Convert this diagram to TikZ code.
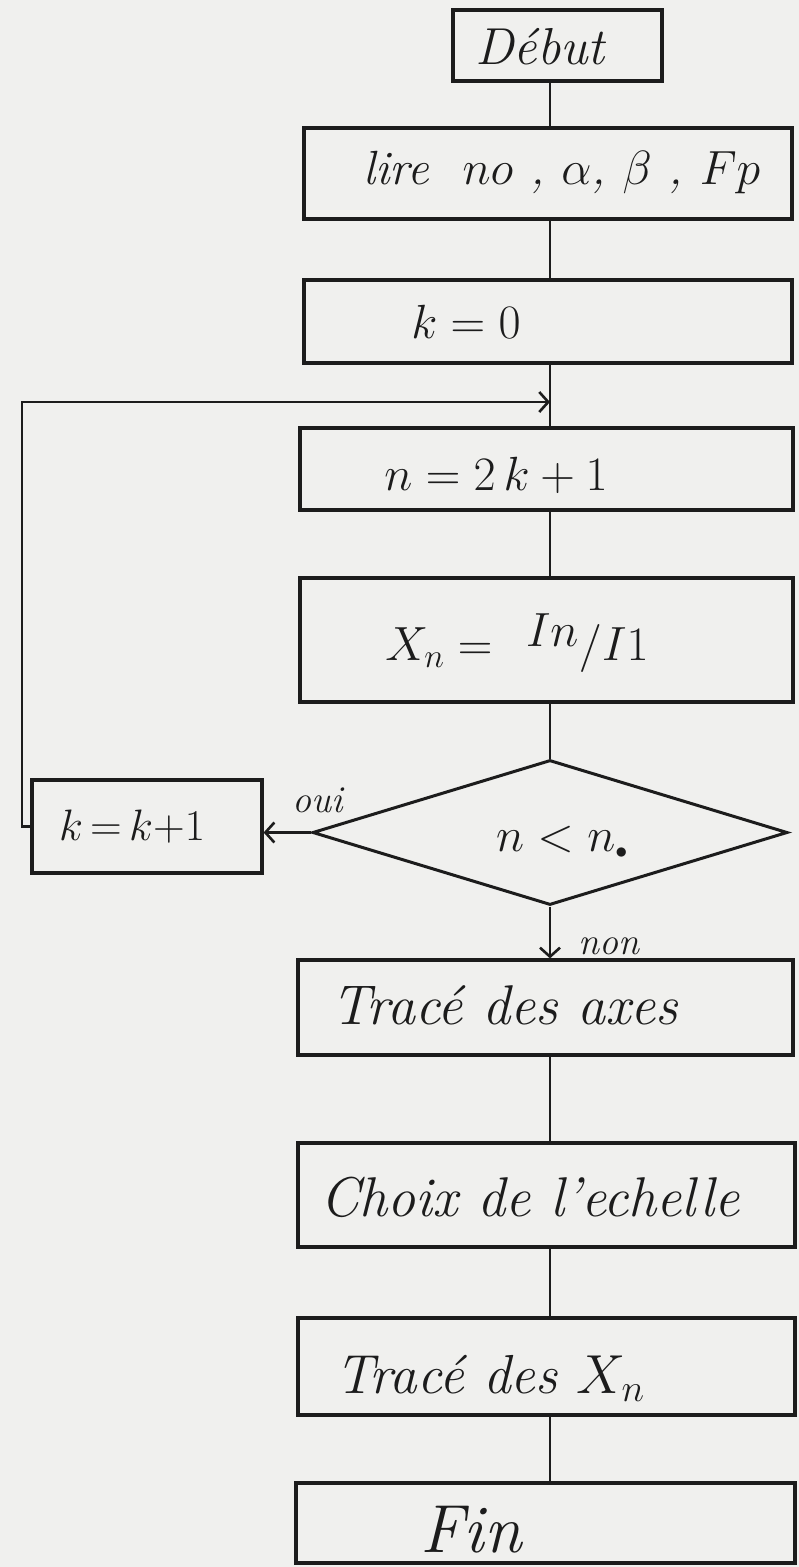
\RequirePackage{fix-cm}
\documentclass[tikz,border=0pt]{standalone}
\usetikzlibrary{shapes.geometric,arrows.meta}
\definecolor{paper}{RGB}{240,240,238}
\definecolor{ink}{RGB}{28,28,28}

\begin{document}
\begin{tikzpicture}[x=1pt,y=-1pt,
  box/.style={draw=ink, line width=3.2pt, rectangle, inner sep=0pt},
  cond/.style={draw=ink, line width=3pt, diamond, inner sep=0pt},
  txt/.style={text=ink, inner sep=0pt, font=\fontsize{48}{56}\selectfont\itshape},
  big/.style={text=ink, inner sep=0pt, font=\fontsize{56}{64}\selectfont\itshape},
  lab/.style={text=ink, inner sep=0pt, font=\fontsize{38}{42}\selectfont\itshape},
  wire/.style={draw=ink, line width=2.6pt},
  arr/.style={wire, -{Straight Barb[length=9pt,width=20pt,line width=2.6pt]}},
]
% sheet
\fill[paper] (0,0) rectangle (799,1567);
\useasboundingbox (0,0) rectangle (799,1567);

% boxes of the main column
\node[box, minimum width=209pt, minimum height=71pt]  (debut) at (557.5,45.5) {};
\node[box, minimum width=488pt, minimum height=91pt]  (lire)  at (548,173.5) {};
\node[box, minimum width=488pt, minimum height=83pt]  (kzero) at (548,321.5) {};
\node[box, minimum width=493pt, minimum height=82pt]  (nval)  at (546.5,469) {};
\node[box, minimum width=493pt, minimum height=124pt] (xval)  at (546.5,640) {};
\node[cond, minimum width=475pt, minimum height=145pt] (test) at (550,832.5) {};
\node[box, minimum width=230pt, minimum height=93pt]  (kinc)  at (147,826.5) {};
\node[box, minimum width=495pt, minimum height=95pt]  (axes)  at (545.5,1007.5) {};
\node[box, minimum width=497pt, minimum height=104pt] (scale) at (546.5,1195) {};
\node[box, minimum width=497pt, minimum height=97pt]  (plot)  at (546.5,1366.5) {};
\node[box, minimum width=499pt, minimum height=80pt]  (fin)   at (545.5,1523) {};

% texts
\node[txt, font=\fontsize{52}{58}\selectfont\itshape] (debut-t) at (540,47) {Début};
\node[txt] (lire-t)  at (562,172) {lire\ \ $no$ , $\alpha$, $\beta$ , $Fp$};
\node[txt] (kzero-t) at (466,322) {$k = 0$};
\node[txt] (nval-t)  at (496,475) {$n = 2\,k + 1$};
\node[txt] (xval-t)  at (517,643) {$X_n =$\ \ \raisebox{0.3em}{$In$}$/I1$};
\node[txt] (test-t)  at (562,842) {$n < n_{\scriptscriptstyle\bullet}$};
\node[txt, font=\fontsize{44}{50}\selectfont\itshape] (kinc-t) at (132,827) {$k\,{=}\,k{+}1$};
\node[big] (axes-t)  at (505,1005) {Tracé des axes};
\node[big] (scale-t) at (530,1197) {Choix de l'echelle};
\node[big, font=\fontsize{55}{62}\selectfont\itshape] (plot-t) at (490,1378) {Tracé des $X_n$};
\node[big, font=\fontsize{68}{74}\selectfont\itshape] (fin-t) at (471,1530) {Fin};

% connectors
\coordinate (col) at (550,0);
\coordinate (merge) at (550,402);
\coordinate (loop) at (22,402);
\draw[wire] (debut.south -| col) -- (lire.north -| col);
\draw[wire] (lire.south -| col) -- (kzero.north -| col);
\draw[wire] (kzero.south -| col) -- (nval.north -| col);
\draw[wire] (nval.south -| col) -- (xval.north -| col);
\draw[wire] (xval.south -| col) -- (test.north);
\draw[arr] (test.south) -- (test.south |- axes.north);
\draw[arr] (test.west) -- (test.west -| kinc.east);
\draw[arr] (kinc.west) -| (loop) -- (merge);
\draw[wire] (axes.south -| col) -- (scale.north -| col);
\draw[wire] (scale.south -| col) -- (plot.north -| col);
\draw[wire] (plot.south -| col) -- (fin.north -| col);

% branch labels
\node[lab] (oui) at (318,800) {oui};
\node[lab] (non) at (609,946) {non};
\end{tikzpicture}
\end{document}
